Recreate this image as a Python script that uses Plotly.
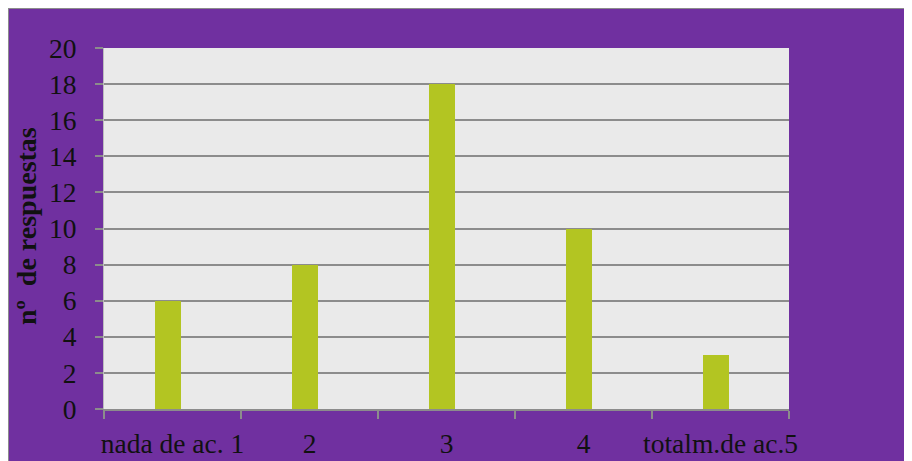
import plotly.graph_objects as go

categories = ["nada de ac. 1", "2", "3", "4", "totalm.de ac.5"]
values = [6, 8, 18, 10, 3]
y_ticks = [0, 2, 4, 6, 8, 10, 12, 14, 16, 18, 20]

# the page adds an 8px body margin, so the figure is sized/placed accordingly
OFF = 8
W, H = 912 - OFF, 461 - OFF
L, R, T, B = 104 - OFF, 789 - OFF, 48 - OFF, 409 - OFF

def px_x(p):
    return (p - OFF - L) / (R - L)

def px_y(p):
    return (B - (p - OFF)) / (B - T)

fig = go.Figure(go.Bar(
    x=categories, y=values,
    marker=dict(color="#B3C522", line=dict(width=0)),
    width=0.195, offset=-0.13,
))

font_serif = "Liberation Serif, Times New Roman, serif"
TICK_SIZE = 27.5

fig.update_layout(
    width=W, height=H,
    margin=dict(l=L, r=W - R, t=T, b=H - B, pad=0, autoexpand=False),
    paper_bgcolor="#7030A0",
    plot_bgcolor="#EAEAEA",
    showlegend=False,
    bargap=0,
    font=dict(family=font_serif, size=TICK_SIZE, color="#111111"),
    xaxis=dict(
        type="category",
        automargin=False,
        tickangle=0,
        showgrid=False,
        showline=True, linecolor="#8C8C8C", linewidth=2,
        ticks="outside", ticklen=8, tickwidth=2, tickcolor="#8C8C8C",
        tickson="boundaries",
        ticklabelstandoff=9,
        tickfont=dict(family=font_serif, size=TICK_SIZE, color="#111111"),
    ),
    yaxis=dict(
        automargin=False,
        range=[0, 20],
        tickvals=y_ticks,
        showgrid=True, gridcolor="#8C8C8C", gridwidth=2,
        showline=True, linecolor="#BDBDBD", linewidth=1,
        ticks="outside", ticklen=8, tickwidth=2, tickcolor="#8C8C8C",
        ticklabelstandoff=13,
        zeroline=False,
        tickfont=dict(family=font_serif, size=TICK_SIZE, color="#111111"),
    ),
    annotations=[dict(
        text="<b>nº  de respuestas</b>",
        xref="paper", yref="paper",
        x=px_x(27), y=px_y(226),
        xanchor="center", yanchor="middle",
        textangle=-90, showarrow=False,
        font=dict(family=font_serif, size=28, color="#111111"),
    )],
    shapes=[
        # grey frame border along the top and left edges
        dict(type="line", xref="paper", yref="paper",
             x0=px_x(8), x1=px_x(912), y0=px_y(8), y1=px_y(8),
             line=dict(color="#8C8C8C", width=2), layer="above"),
        dict(type="line", xref="paper", yref="paper",
             x0=px_x(8), x1=px_x(8), y0=px_y(8), y1=px_y(461),
             line=dict(color="#8C8C8C", width=2), layer="above"),
    ],
)

fig.write_html("out.html")
